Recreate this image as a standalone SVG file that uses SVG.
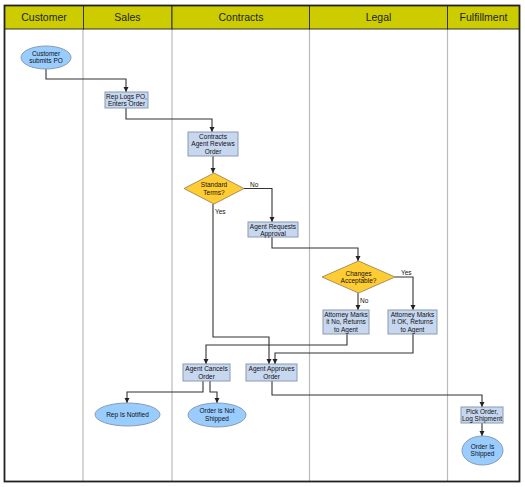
<svg xmlns="http://www.w3.org/2000/svg" width="525" height="487" viewBox="0 0 525 487">
<defs>
<marker id="arr" markerWidth="6" markerHeight="6" refX="5" refY="3" orient="auto" markerUnits="userSpaceOnUse">
<path d="M0,0.5 L5,3 L0,5.5 z" fill="#222"/>
</marker>
<style>
.hdr{fill:#cccc00;stroke:#333;stroke-width:1}
.ht{font-family:"Liberation Sans",Arial,sans-serif;font-size:10.5px;fill:#222;text-anchor:middle}
.lane{stroke:#bbb;stroke-width:1.2}
.box{fill:#c7d7ef;stroke:#8a9bb0;stroke-width:1}
.ell{fill:#99ccff;stroke:#8a9bb0;stroke-width:1}
.dia{fill:#ffcc33;stroke:#a89060;stroke-width:1}
.t{font-family:"Liberation Sans",Arial,sans-serif;font-size:6.5px;fill:#111;text-anchor:middle}
.lbl{font-family:"Liberation Sans",Arial,sans-serif;font-size:6.5px;fill:#111}
.c{fill:none;stroke:#333;stroke-width:1.1;marker-end:url(#arr)}
</style>
</defs>
<rect x="0" y="0" width="525" height="487" fill="#fff"/>
<g id="lanes">
<line class="lane" x1="83" y1="29" x2="83" y2="481"/>
<line class="lane" x1="172" y1="29" x2="172" y2="481"/>
<line class="lane" x1="309.5" y1="29" x2="309.5" y2="481"/>
<line class="lane" x1="447.5" y1="29" x2="447.5" y2="481"/>
</g>
<g id="header">
<rect class="hdr" x="4.5" y="5.5" width="79" height="23.5"/>
<rect class="hdr" x="83.5" y="5.5" width="88.5" height="23.5"/>
<rect class="hdr" x="172" y="5.5" width="137.5" height="23.5"/>
<rect class="hdr" x="309.5" y="5.5" width="138" height="23.5"/>
<rect class="hdr" x="447.5" y="5.5" width="72" height="23.5"/>
<text class="ht" x="44" y="21">Customer</text>
<text class="ht" x="127.5" y="21">Sales</text>
<text class="ht" x="241" y="21">Contracts</text>
<text class="ht" x="378.5" y="21">Legal</text>
<text class="ht" x="483.5" y="21">Fulfillment</text>
</g>
<rect x="4.5" y="5.5" width="515" height="476" fill="none" stroke="#222" stroke-width="1.8"/>
<g id="connectors">
<path class="c" d="M46,69 V79 H126 V92"/>
<path class="c" d="M126,108 V119 H212 V132"/>
<path class="c" d="M213,156 V173"/>
<path class="c" d="M244,188.5 H272 V222"/>
<path class="c" d="M213,204 V337 H269 V364"/>
<path class="c" d="M272,237 V248 H358 V261"/>
<path class="c" d="M395,277 H413 V310"/>
<path class="c" d="M358,293 V310"/>
<path class="c" d="M347,334 V345 H206 V364"/>
<path class="c" d="M413,334 V353 H275 V364"/>
<path class="c" d="M203,381 V392 H127 V403"/>
<path class="c" d="M210,381 V392 H217 V403"/>
<path class="c" d="M272,381 V395 H482 V407"/>
<path class="c" d="M482,423 V436"/>
<text class="lbl" x="250" y="186.5">No</text>
<text class="lbl" x="215" y="214">Yes</text>
<text class="lbl" x="401" y="275">Yes</text>
<text class="lbl" x="360" y="303">No</text>
</g>
<g id="n1">
<ellipse class="ell" cx="46" cy="57.5" rx="25" ry="11.5"/>
<text class="t" x="46" y="55.5">Customer</text>
<text class="t" x="46" y="63">submits PO</text>
</g>
<g id="n2">
<rect class="box" x="105" y="92" width="43" height="16"/>
<text class="t" x="126.5" y="99">Rep Logs PO,</text>
<text class="t" x="126.5" y="106">Enters Order</text>
</g>
<g id="n3">
<rect class="box" x="188" y="132" width="50" height="24"/>
<text class="t" x="213" y="138.5">Contracts</text>
<text class="t" x="213" y="146">Agent Reviews</text>
<text class="t" x="213" y="153.5">Order</text>
</g>
<g id="n4">
<polygon class="dia" points="214,173 244,188.5 214,204 184,188.5"/>
<text class="t" x="214" y="187">Standard</text>
<text class="t" x="214" y="194.5">Terms?</text>
</g>
<g id="n5">
<rect class="box" x="248" y="222" width="50" height="15"/>
<text class="t" x="273" y="228.5">Agent Requests</text>
<text class="t" x="273" y="235.5">Approval</text>
</g>
<g id="n6">
<polygon class="dia" points="358.5,261 395,277 358.5,293 322,277"/>
<text class="t" x="358.5" y="275.5">Changes</text>
<text class="t" x="358.5" y="283">Acceptable?</text>
</g>
<g id="n7">
<rect class="box" x="323" y="310" width="46" height="24"/>
<text class="t" x="346" y="316.5">Attorney Marks</text>
<text class="t" x="346" y="324">it No, Returns</text>
<text class="t" x="346" y="331.5">to Agent</text>
</g>
<g id="n8">
<rect class="box" x="388" y="310" width="49" height="24"/>
<text class="t" x="412.5" y="316.5">Attorney Marks</text>
<text class="t" x="412.5" y="324">it OK, Returns</text>
<text class="t" x="412.5" y="331.5">to Agent</text>
</g>
<g id="n9">
<rect class="box" x="183" y="364" width="47" height="17"/>
<text class="t" x="206.5" y="371">Agent Cancels</text>
<text class="t" x="206.5" y="378.5">Order</text>
</g>
<g id="n10">
<rect class="box" x="246" y="364" width="51" height="17"/>
<text class="t" x="271.5" y="371">Agent Approves</text>
<text class="t" x="271.5" y="378.5">Order</text>
</g>
<g id="n11">
<ellipse class="ell" cx="127.5" cy="414.5" rx="32.5" ry="11.5"/>
<text class="t" x="127.5" y="416.8">Rep Is Notified</text>
</g>
<g id="n12">
<ellipse class="ell" cx="217" cy="415" rx="29" ry="12"/>
<text class="t" x="217" y="413">Order is Not</text>
<text class="t" x="217" y="420.5">Shipped</text>
</g>
<g id="n13">
<rect class="box" x="461" y="407" width="42" height="16"/>
<text class="t" x="482" y="414">Pick Order,</text>
<text class="t" x="482" y="421">Log Shipment</text>
</g>
<g id="n14">
<ellipse class="ell" cx="482.5" cy="450.5" rx="20.5" ry="14.5"/>
<text class="t" x="482.5" y="448.5">Order Is</text>
<text class="t" x="482.5" y="456">Shipped</text>
</g>
</svg>
